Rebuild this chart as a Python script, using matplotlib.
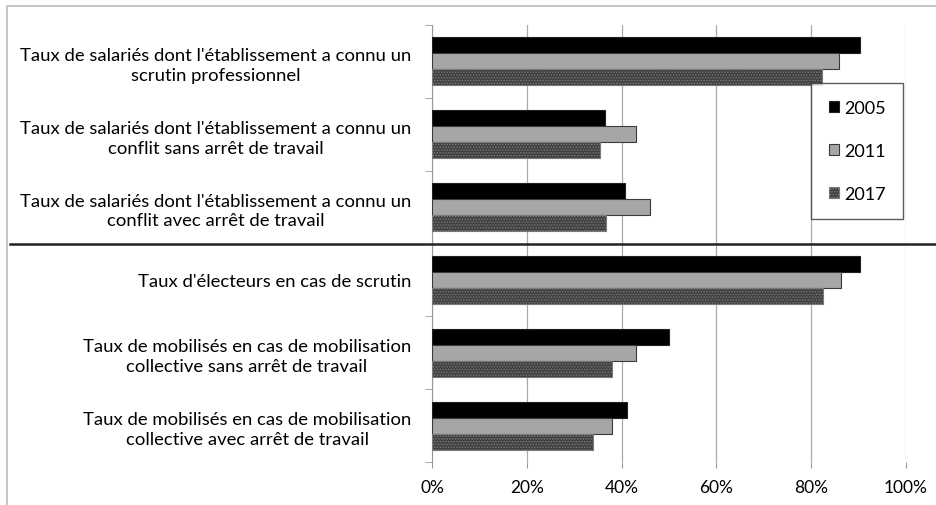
import matplotlib.pyplot as plt
import matplotlib.transforms as mtransforms
from matplotlib.patches import Rectangle
import numpy as np

plt.rcParams['font.family'] = ['Lato', 'DejaVu Sans']
plt.rcParams['hatch.linewidth'] = 0.7

categories = [
    "Taux de salariés dont l'établissement a connu un\nscrutin professionnel",
    "Taux de salariés dont l'établissement a connu un\nconflit sans arrêt de travail",
    "Taux de salariés dont l'établissement a connu un\nconflit avec arrêt de travail",
    "Taux d'électeurs en cas de scrutin",
    "Taux de mobilisés en cas de mobilisation\ncollective sans arrêt de travail",
    "Taux de mobilisés en cas de mobilisation\ncollective avec arrêt de travail",
]
years = ["2005", "2011", "2017"]
v2005 = [90.3, 36.6, 40.7, 90.4, 50.0, 41.1]
v2011 = [85.9, 43.0, 45.9, 86.2, 43.0, 38.0]
v2017 = [82.3, 35.4, 36.8, 82.4, 38.0, 34.0]

fig = plt.figure(figsize=(9.36, 5.06), dpi=100)
ax = fig.add_axes([432 / 936, 1 - 463 / 506, 474 / 936, 437 / 506])

y = np.arange(len(categories))
h = 0.22
styles = [
    dict(color="black", edgecolor="#222222"),
    dict(color="#a6a6a6", edgecolor="#3a3a3a"),
    dict(color="#404040", edgecolor="#7a7a7a", hatch="......"),
]
for i, (vals, st) in enumerate(zip([v2005, v2011, v2017], styles)):
    ax.barh(y + (i - 1) * h, vals, height=h, linewidth=0.8, label=years[i],
            zorder=3, **st)

ax.set_xlim(0, 100)
ax.set_ylim(len(categories) - 0.5, -0.5)
ax.set_xticks(np.arange(0, 101, 20))
ax.set_xticklabels([f"{v}%" for v in range(0, 101, 20)], fontsize=12.5)
ax.set_yticks(y)
ax.set_yticklabels(categories, fontsize=13.3)
for lab in ax.get_yticklabels():
    lab.set_multialignment("center")
    lab.set_linespacing(1.3)
ax.set_yticks(np.arange(-0.5, len(categories)), minor=True)
ax.tick_params(axis="y", which="major", length=0, pad=15)
ax.tick_params(axis="y", which="minor", length=5, color="#999999")
ax.tick_params(axis="x", length=4, color="#999999", pad=8)
ax.grid(axis="x", color="#aaaaaa", linewidth=0.9, zorder=0)
for s in ["top", "right", "bottom"]:
    ax.spines[s].set_visible(False)
ax.spines["left"].set_color("#999999")

# divider between the two groups, running across the label area
tr = mtransforms.blended_transform_factory(fig.transFigure, ax.transData)
ax.plot([10 / 936, 1], [2.5, 2.5], transform=tr, color="#222222",
        linewidth=1.8, clip_on=False, zorder=5)

leg = ax.legend(loc="upper right", bbox_to_anchor=(0.993, 0.868),
                fontsize=13, frameon=True, fancybox=False, edgecolor="#333333",
                labelspacing=1.5, handlelength=0.6, handleheight=0.6,
                handletextpad=0.25, borderpad=0.95, borderaxespad=0)
leg.get_frame().set_linewidth(1.0)

fig.add_artist(Rectangle((7 / 936, -0.01), 1.0, 1 - 7 / 506 + 0.01,
                         transform=fig.transFigure, fill=False,
                         edgecolor="#bbbbbb", linewidth=1.2))

fig.savefig("out.png", dpi=100)
